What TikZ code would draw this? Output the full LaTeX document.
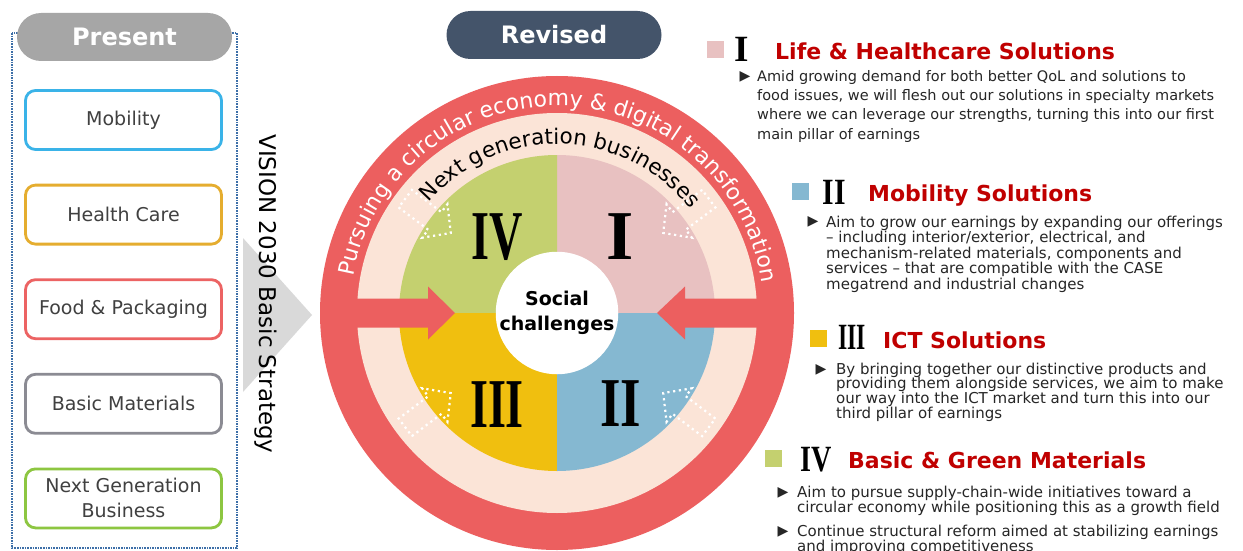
\documentclass[tikz,border=0pt]{standalone}
\usepackage{fontspec}
\setmainfont{DejaVu Sans}
\newfontfamily\numfont{Liberation Serif}
\usepackage{graphicx}
\usetikzlibrary{calc,decorations.text,positioning}
\tikzset{>=latex}
\definecolor{ringred}{HTML}{EC5F5F}
\definecolor{peach}{HTML}{FBE4D7}
\definecolor{quadI}{HTML}{E8C1C1}
\definecolor{quadII}{HTML}{85B8D1}
\definecolor{quadIII}{HTML}{F0BF0F}
\definecolor{quadIV}{HTML}{C4D06F}
\definecolor{titlered}{HTML}{C00000}
\definecolor{boxblue}{HTML}{3AB3E8}
\definecolor{boxyellow}{HTML}{E5AD2F}
\definecolor{boxred}{HTML}{EC6363}
\definecolor{boxgray}{HTML}{8B8B93}
\definecolor{boxgreen}{HTML}{8DC641}
\definecolor{pillgray}{HTML}{A6A6A6}
\definecolor{pillslate}{HTML}{44546A}
\definecolor{frameblue}{HTML}{3D6FA8}
\definecolor{chevgray}{HTML}{D9D9D9}
\definecolor{textgray}{HTML}{404040}
\definecolor{bodygray}{HTML}{262626}
\newcommand{\squeeze}[2]{\scalebox{#1}[1]{#2}}
\tikzset{
  bizbox/.style={draw=#1, line width=2.8pt, rounded corners=10pt, minimum width=196pt,
    minimum height=59pt, fill=white, text=textgray, align=center, inner sep=0pt,
    font=\fontsize{19}{25}\selectfont},
  pill/.style={fill=#1, rounded corners=24pt, minimum width=215pt, minimum height=48pt,
    text=white, inner sep=0pt, font=\bfseries\fontsize{24}{24}\selectfont},
  quadnum/.style={inner sep=0pt, font=\numfont\bfseries\fontsize{70}{70}\selectfont},
  legnum/.style={inner sep=0pt, font=\numfont\bfseries\fontsize{37}{37}\selectfont},
  legtitle/.style={anchor=base west, inner sep=0pt, text=titlered, font=\bfseries\fontsize{22}{22}\selectfont},
  bodytext/.style={anchor=north west, align=left, inner sep=0pt, text=bodygray},
  tri/.style={inner sep=0pt, text=bodygray, font=\fontsize{14}{14}\selectfont},
  hintline/.style={draw=white, line width=2.2pt, dash pattern=on 2.2pt off 3.6pt},
  hintarrow/.pic={\draw[hintline] (-37,-11) -- (0,-11) -- (0,-21) -- (20,0) -- (0,21) -- (0,11) -- (-37,11) -- cycle;}
}

\begin{document}
\begin{tikzpicture}[x=1pt,y=1pt]
  \useasboundingbox (0,0) rectangle (1243,-551);
  \fill[white] (0,0) rectangle (1243,-551);
  \def\rout{237}  % outer edge of red ring
  \def\rmid{200}  % inner edge of red ring
  \def\rq{158}    % quadrants
  \coordinate (C) at (557,-313);

  % present column
  \draw[frameblue, line width=1.6pt, densely dotted] (12,-33) rectangle (237,-548);
  \node[pill=pillgray] (present) at (124.5,-37) {Present};
  \node[bizbox=boxblue] (mobility) at (123.5,-120) {Mobility};
  \node[bizbox=boxyellow, below=32.8pt of mobility] (health) {Health Care};
  \node[bizbox=boxred, below=32.8pt of health] (food) {Food \& Packaging};
  \node[bizbox=boxgray, below=32.8pt of food] (basic) {Basic Materials};
  \node[bizbox=boxgreen, below=32.8pt of basic] (nextgen) {Next Generation\\Business};

  % chevron and strategy label
  \fill[chevgray] (243,-238) -- (312,-315) -- (243,-392) -- cycle;
  \node[rotate=-90, inner sep=0pt, font=\fontsize{23}{23}\selectfont] (vision) at (266,-294) {VISION 2030 Basic Strategy};

  % revised circle
  \node[pill=pillslate] (revised) at (554,-35) {Revised};
  \fill[ringred] (C) circle[radius=\rout];
  \fill[peach] (C) circle[radius=\rmid];
  \fill[quadI] (C) -- ++(0:\rq) arc[start angle=0, end angle=90, radius=\rq] -- cycle;
  \fill[quadIV] (C) -- ++(90:\rq) arc[start angle=90, end angle=180, radius=\rq] -- cycle;
  \fill[quadIII] (C) -- ++(180:\rq) arc[start angle=180, end angle=270, radius=\rq] -- cycle;
  \fill[quadII] (C) -- ++(270:\rq) arc[start angle=270, end angle=360, radius=\rq] -- cycle;

  \path[decorate, decoration={text along path, text align=center,
      text={|\color{white}\fontsize{22}{22}\selectfont|Pursuing a circular economy {\&} digital transformation}}]
    (C) ++(174:207) arc[start angle=174, end angle=4, radius=207];
  \path[decorate, decoration={text along path, text align=center,
      text={|\fontsize{21.5}{21.5}\selectfont|Next generation businesses}}]
    (C) ++(148.5:169) arc[start angle=148.5, end angle=28.5, radius=169];

  \pic[rotate=-37] at ($(C)+(143:153)$) {hintarrow};
  \pic[rotate=217] at ($(C)+(37:153)$) {hintarrow};
  \pic[rotate=37] at ($(C)+(217:153)$) {hintarrow};
  \pic[rotate=143] at ($(C)+(323:153)$) {hintarrow};

  \coordinate (ltip) at (455,-313);
  \coordinate (rtip) at (657,-313);
  \fill[ringred] (ltip) -- ++(-27,26.5) -- ++(0,-12) -- ++(-85,0) -- ++(0,-29) -- ++(85,0) -- ++(0,-12) -- cycle;
  \fill[ringred] (rtip) -- ++(28,26.5) -- ++(0,-12) -- ++(85,0) -- ++(0,-29) -- ++(-85,0) -- ++(0,-12) -- cycle;

  \node[circle, fill=white, minimum size=110pt, inner sep=0pt, align=center,
    font=\bfseries\fontsize{19}{25}\selectfont] (core) at (C) {Social\\challenges};

  \node[quadnum] (qIV) at (497,-237) {\squeeze{0.66}{IV}};
  \node[quadnum] (qI) at (620,-237) {I};
  \node[quadnum] (qIII) at (497,-405) {\squeeze{0.66}{III}};
  \node[quadnum] (qII) at (621,-404) {\squeeze{0.75}{II}};

  % legend I
  \fill[quadI] (707,-41) rectangle ++(17,-17);
  \node[legnum] (numI) at (742,-49.5) {I};
  \node[legtitle] (titleI) at (775,-60) {Life \& Healthcare Solutions};
  \node[tri] (triI) at (745,-77) {▶};
  \node[bodytext, font=\fontsize{14.5}{19.3}\selectfont] (bodyI) at (757,-70) {Amid growing demand for both better QoL and solutions to\\food issues, we will flesh out our solutions in specialty markets\\where we can leverage our strengths, turning this into our first\\main pillar of earnings};

  % legend II
  \fill[quadII] (792,-183) rectangle ++(17,-17);
  \node[legnum] (numII) at (834,-192.5) {\squeeze{0.8}{II}};
  \node[legtitle] (titleII) at (868,-201) {Mobility Solutions};
  \node[tri] (triII) at (813,-222) {▶};
  \node[bodytext, font=\fontsize{15}{14.5}\selectfont] (bodyII) at (826,-215.5) {Aim to grow our earnings by expanding our offerings\\– including interior/exterior, electrical, and\\mechanism-related materials, components and\\services – that are compatible with the CASE\\megatrend and industrial changes};

  % legend III
  \fill[quadIII] (810,-330) rectangle ++(17,-17);
  \node[legnum] (numIII) at (852,-337.5) {\squeeze{0.64}{III}};
  \node[legtitle] (titleIII) at (883,-348) {ICT Solutions};
  \node[tri] (triIII) at (821,-370) {▶};
  \node[bodytext, font=\fontsize{15}{14.8}\selectfont] (bodyIII) at (836,-362.5) {By bringing together our distinctive products and\\providing them alongside services, we aim to make\\our way into the ICT market and turn this into our\\third pillar of earnings};

  % legend IV
  \fill[quadIV] (765,-450) rectangle ++(17,-17);
  \node[legnum] (numIV) at (816,-460) {\squeeze{0.76}{IV}};
  \node[legtitle] (titleIV) at (848,-468) {Basic \& Green Materials};
  \node[tri] (triIVa) at (783,-493) {▶};
  \node[bodytext, font=\fontsize{15}{14}\selectfont] (bodyIVa) at (797,-485.5) {Aim to pursue supply-chain-wide initiatives toward a\\circular economy while positioning this as a growth field};
  \node[tri] (triIVb) at (783,-532) {▶};
  \node[bodytext, font=\fontsize{15}{14}\selectfont] (bodyIVb) at (797,-524.5) {Continue structural reform aimed at stabilizing earnings\\and improving competitiveness};
\end{tikzpicture}
\end{document}
